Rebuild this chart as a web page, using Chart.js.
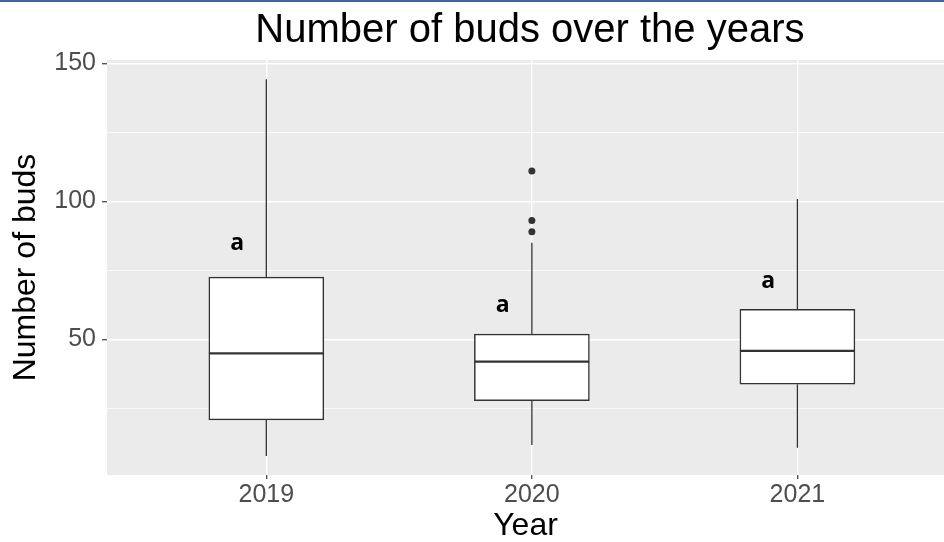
<!DOCTYPE html>
<html>
<head>
<meta charset="utf-8">
<title>Number of buds over the years</title>
<script src="https://cdn.jsdelivr.net/npm/chart.js@4.4.0/dist/chart.umd.min.js"></script>
<style>
  html, body { margin: 0; padding: 0; background: #fff; overflow: hidden; }
  .wrap { position: relative; width: 944px; height: 542px; }
  .topline { position: absolute; left: 0; top: 0; width: 944px; height: 2px; background: #45639f; }
</style>
</head>
<body>
<div class="wrap">
  <canvas id="budsChart" width="944" height="542"></canvas>
  <div class="topline"></div>
</div>
<script>
'use strict'

const chartTitle = 'Number of buds over the years';
const years = ['2019', '2020', '2021'];
const positions = [1, 2, 3];
const whiskerLow = [7.7, 11.7, 10.7];
const q1 = [20.8, 27.8, 33.7];
const median = [44.9, 41.9, 45.8];
const q3 = [72.5, 51.9, 60.9];
const whiskerHigh = [144.2, 85, 100.8];
const outlierPos = [2, 2, 2];
const outlierValue = [111, 93, 89];
const letters = ['a', 'a', 'a'];
const letterX = [0.89, 1.89, 2.89];
const letterY = [82.4, 60, 68.5];
const yTicks = [25, 50, 75, 100, 125, 150];

const family = '"Liberation Sans", Arial, sans-serif';
const ink = '#333333';

const panelBackground = {
    id: 'panelBackground',
    beforeDraw(chart){
        const {ctx, chartArea: a} = chart;
        ctx.save();
        ctx.fillStyle = '#EBEBEB';
        ctx.fillRect(a.left, a.top, a.right - a.left, a.bottom - a.top);
        ctx.restore();
    }
};

const titleAndLetters = {
    id: 'titleAndLetters',
    afterDatasetsDraw(chart){
        const {ctx, scales: {x, y}} = chart;
        ctx.save();
        ctx.fillStyle = '#000';
        ctx.textAlign = 'center';
        ctx.textBaseline = 'alphabetic';
        ctx.font = 'bold 23px "Open Sans", "Liberation Sans", sans-serif';
        letters.forEach((t, i) => {
            ctx.fillText(t, x.getPixelForValue(letterX[i]), y.getPixelForValue(letterY[i]));
        });
        ctx.font = `40px ${family}`;
        ctx.fillText(chartTitle, (x.getPixelForValue(0.4) + x.getPixelForValue(3.6)) / 2 - 2, 42);
        ctx.restore();
    }
};

// whisker segments, null breaks the line between them
const whiskerData = positions.flatMap((x, i) => [
    {x, y: whiskerLow[i]}, {x, y: q1[i]}, {x, y: null},
    {x, y: q3[i]}, {x, y: whiskerHigh[i]}, {x, y: null}
]);

const boxStyle = {
    type: 'bar',
    grouped: false,
    barThickness: 115,
    borderSkipped: false,
    backgroundColor: '#ffffff',
    borderColor: ink,
    borderWidth: 1.5
};

new Chart(document.getElementById('budsChart'), {
    type: 'bar',
    data: {
        datasets: [
            {
                ...boxStyle,
                label: 'lower box',
                data: positions.map((x, i) => ({x, y: [q1[i], median[i]]}))
            },
            {
                ...boxStyle,
                label: 'upper box',
                data: positions.map((x, i) => ({x, y: [median[i], q3[i]]}))
            },
            {
                type: 'line',
                label: 'whiskers',
                data: whiskerData,
                borderColor: ink,
                borderWidth: 1.3,
                pointRadius: 0,
                spanGaps: false
            },
            {
                type: 'scatter',
                label: 'outliers',
                data: outlierPos.map((x, i) => ({x, y: outlierValue[i]})),
                pointRadius: 3.5,
                backgroundColor: ink,
                borderWidth: 0
            }
        ]
    },
    options: {
        responsive: false,
        animation: false,
        events: [],
        layout: {autoPadding: false, padding: {top: 60, left: 0, right: 0, bottom: 0}},
        plugins: {
            legend: {display: false},
            tooltip: {enabled: false}
        },
        scales: {
            x: {
                type: 'linear',
                min: 0.4,
                max: 3.552,
                offset: false,
                afterBuildTicks: axis => { axis.ticks = positions.map(v => ({value: v})); },
                afterFit: axis => {
                    axis.height = 67;
                    axis.paddingLeft = 0;
                    axis.paddingRight = 0;
                },
                grid: {color: '#ffffff', lineWidth: 1.4, tickColor: '#555555', tickLength: 4, offset: false},
                border: {display: false},
                ticks: {
                    padding: 1,
                    color: '#4D4D4D',
                    font: {size: 25, family},
                    maxRotation: 0,
                    autoSkip: false,
                    callback: (v, i) => years[i]
                },
                title: {
                    display: true,
                    text: 'Year',
                    color: '#000',
                    font: {size: 32, family, lineHeight: 1},
                    padding: {top: 0, bottom: 0}
                }
            },
            y: {
                min: 0.83,
                max: 151.2,
                afterBuildTicks: axis => { axis.ticks = yTicks.map(v => ({value: v})); },
                afterFit: axis => { axis.width = 107; },
                grid: {
                    color: '#ffffff',
                    lineWidth: c => c.tick && c.tick.value % 50 === 0 ? 1.4 : 0.7,
                    tickColor: c => c.tick && c.tick.value % 50 === 0 ? '#555555' : 'rgba(0,0,0,0)',
                    tickLength: 5
                },
                border: {display: false},
                ticks: {
                    padding: 6,
                    color: '#4D4D4D',
                    font: {size: 25, family},
                    autoSkip: false,
                    callback: v => v % 50 === 0 ? String(v) : ''
                },
                title: {
                    display: true,
                    text: 'Number of buds',
                    color: '#000',
                    font: {size: 32, family, lineHeight: 1},
                    padding: {top: 10, bottom: 0}
                }
            }
        }
    },
    plugins: [panelBackground, titleAndLetters]
});
</script>
</body>
</html>
